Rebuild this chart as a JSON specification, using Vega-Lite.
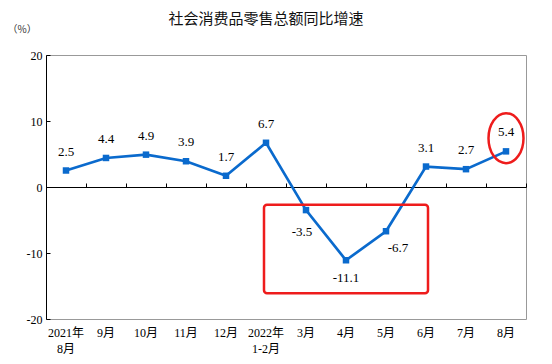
{
  "$schema": "https://vega.github.io/schema/vega-lite/v6.json",
  "width": 480,
  "height": 264,
  "autosize": {"type": "none"},
  "padding": {"left": 46, "top": 55, "right": 26, "bottom": 45},
  "background": "white",
  "config": {
    "view": {"stroke": "#999999", "strokeWidth": 1},
    "font": "Liberation Serif"
  },
  "title": {
    "text": "社会消费品零售总额同比增速",
    "font": "Noto Sans CJK SC",
    "fontSize": 15,
    "fontWeight": "normal",
    "color": "#111111",
    "anchor": "middle",
    "dx": -20,
    "offset": -18,
    "baseline": "bottom"
  },
  "data": {
    "values": [
      {"m": "2021年|8月", "v": 2.5},
      {"m": "9月", "v": 4.4},
      {"m": "10月", "v": 4.9},
      {"m": "11月", "v": 3.9},
      {"m": "12月", "v": 1.7},
      {"m": "2022年|1-2月", "v": 6.7},
      {"m": "3月", "v": -3.5},
      {"m": "4月", "v": -11.1},
      {"m": "5月", "v": -6.7},
      {"m": "6月", "v": 3.1},
      {"m": "7月", "v": 2.7},
      {"m": "8月", "v": 5.4}
    ]
  },
  "resolve": {"axis": {"x": "independent", "y": "independent"}},
  "layer": [
    {
      "mark": {"type": "line", "color": "#0a6acd", "strokeWidth": 2.7},
      "encoding": {
        "x": {
          "field": "m", "type": "nominal", "sort": null,
          "scale": {"domain": ["2021年|8月", "9月", "10月", "11月", "12月", "2022年|1-2月", "3月", "4月", "5月", "6月", "7月", "8月"], "paddingInner": 0, "paddingOuter": 0},
          "axis": {
            "orient": "bottom", "title": null, "domain": false, "ticks": false,
            "labelAngle": 0, "labelExpr": "split(datum.label, '|')",
            "labelFont": "Liberation Serif, Noto Sans CJK SC", "labelFontSize": 12,
            "labelColor": "#000000", "labelPadding": 8, "labelLineHeight": 16,
            "labelBaseline": "top"
          }
        },
        "y": {
          "field": "v", "type": "quantitative",
          "scale": {"domain": [-20, 20], "nice": false, "zero": false},
          "axis": {
            "values": [-20, -10, 0, 10, 20], "grid": false,
            "labelExpr": "'' + datum.value",
            "domainColor": "#000000", "tickColor": "#000000", "tickSize": -4,
            "labelFont": "Liberation Serif", "labelFontSize": 12, "labelColor": "#000000",
            "labelPadding": 8,
            "title": "（%）", "titleAngle": 0, "titleAlign": "left", "titleBaseline": "middle",
            "titleX": -39, "titleY": -26, "titleFont": "Noto Sans CJK SC", "titleFontSize": 10,
            "titleFontWeight": "normal", "titleColor": "#333333"
          }
        }
      }
    },
    {
      "mark": {"type": "point", "shape": "square", "filled": true, "size": 42, "color": "#0a6acd", "opacity": 1},
      "encoding": {
        "x": {
          "field": "m", "type": "nominal", "sort": null,
          "axis": {
            "orient": "top", "offset": -132, "title": null, "labels": false,
            "domain": true, "domainColor": "#000000", "domainWidth": 1,
            "ticks": true, "tickColor": "#000000", "tickSize": 4, "tickBand": "extent"
          }
        },
        "y": {"field": "v", "type": "quantitative", "axis": null}
      }
    },
    {
      "transform": [{"filter": "datum.v >= 0"}],
      "mark": {"type": "text", "fontSize": 13, "font": "Liberation Serif", "color": "#000000", "dy": -19, "baseline": "middle"},
      "encoding": {
        "x": {"field": "m", "type": "nominal", "sort": null, "axis": null},
        "y": {"field": "v", "type": "quantitative", "axis": null},
        "text": {"field": "v", "type": "nominal"}
      }
    },
    {
      "transform": [{"filter": "datum.m == '3月'"}],
      "mark": {"type": "text", "fontSize": 13, "font": "Liberation Serif", "color": "#000000", "dx": -4, "dy": 22, "baseline": "middle"},
      "encoding": {
        "x": {"field": "m", "type": "nominal", "sort": null, "axis": null},
        "y": {"field": "v", "type": "quantitative", "axis": null},
        "text": {"field": "v", "type": "nominal"}
      }
    },
    {
      "transform": [{"filter": "datum.m == '4月'"}],
      "mark": {"type": "text", "fontSize": 13, "font": "Liberation Serif", "color": "#000000", "dy": 18, "baseline": "middle"},
      "encoding": {
        "x": {"field": "m", "type": "nominal", "sort": null, "axis": null},
        "y": {"field": "v", "type": "quantitative", "axis": null},
        "text": {"field": "v", "type": "nominal"}
      }
    },
    {
      "transform": [{"filter": "datum.m == '5月'"}],
      "mark": {"type": "text", "fontSize": 13, "font": "Liberation Serif", "color": "#000000", "dx": 12, "dy": 17, "baseline": "middle"},
      "encoding": {
        "x": {"field": "m", "type": "nominal", "sort": null, "axis": null},
        "y": {"field": "v", "type": "quantitative", "axis": null},
        "text": {"field": "v", "type": "nominal"}
      }
    },
    {
      "data": {"values": [{"a": "2022年|1-2月", "b": "6月", "y1": -2.7, "y2": -16.1}]},
      "mark": {"type": "rect", "filled": false, "stroke": "#ee1c1c", "strokeWidth": 2.5, "cornerRadius": 3},
      "encoding": {
        "x": {"field": "a", "type": "nominal", "sort": null, "bandPosition": 0.45, "axis": null},
        "x2": {"field": "b", "bandPosition": 0.55},
        "y": {"field": "y1", "type": "quantitative", "axis": null},
        "y2": {"field": "y2"}
      }
    },
    {
      "data": {"values": [{"a": "8月", "y": 7.4}]},
      "mark": {"type": "point", "shape": "M0,-1A0.7,1,0,1,0,0,1A0.7,1,0,1,0,0,-1Z", "filled": false, "stroke": "#ee1c1c", "strokeWidth": 2.5, "size": 2500, "opacity": 1},
      "encoding": {
        "x": {"field": "a", "type": "nominal", "sort": null, "axis": null},
        "y": {"field": "y", "type": "quantitative", "axis": null}
      }
    }
  ]
}
